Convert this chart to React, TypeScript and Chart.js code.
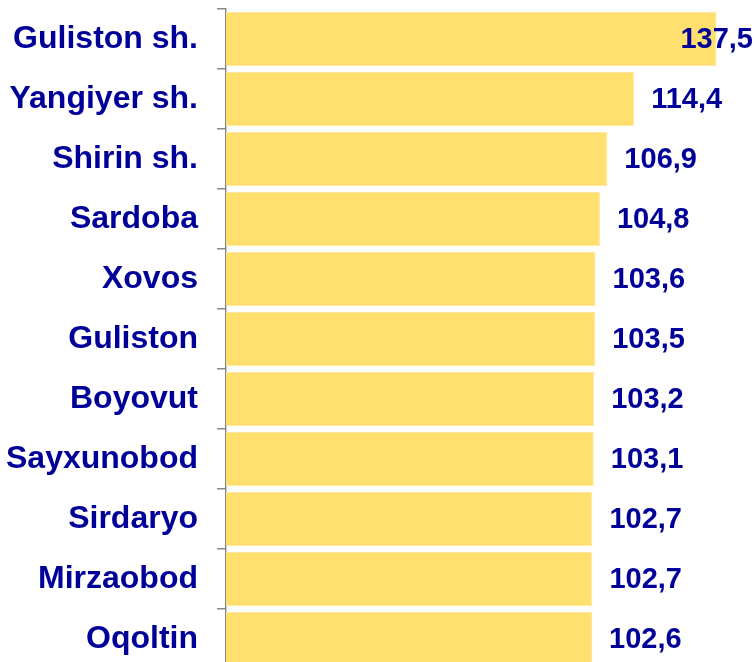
import React, { useEffect, useRef } from "react";
import { Chart, registerables } from "chart.js";

Chart.register(...registerables);

const categories = [
  "Guliston sh.",
  "Yangiyer sh.",
  "Shirin sh.",
  "Sardoba",
  "Xovos",
  "Guliston",
  "Boyovut",
  "Sayxunobod",
  "Sirdaryo",
  "Mirzaobod",
  "Oqoltin",
];
const values = [137.5, 114.4, 106.9, 104.8, 103.6, 103.5, 103.2, 103.1, 102.7, 102.7, 102.6];
const valueLabels = ["137,5", "114,4", "106,9", "104,8", "103,6", "103,5", "103,2", "103,1", "102,7", "102,7", "102,6"];

const FONT = "'Liberation Sans', Arial, Helvetica, sans-serif";
const TEXT_COLOR = "#000099";

const valueLabelPlugin = {
  id: "valueLabels",
  afterDatasetsDraw(chart: any) {
    const { ctx, chartArea } = chart;
    const meta = chart.getDatasetMeta(0);
    ctx.save();
    ctx.font = `bold 29px ${FONT}`;
    ctx.fillStyle = TEXT_COLOR;
    ctx.textBaseline = "middle";
    ctx.textAlign = "left";
    meta.data.forEach((bar: any, i: number) => {
      const text = valueLabels[i];
      const w = ctx.measureText(text).width;
      const x = Math.min(bar.x + 17, chartArea.right - 1 - w);
      ctx.fillText(text, x, bar.y + 1);
    });
    ctx.restore();
  },
};

export default function App() {
  const canvasRef = useRef<HTMLCanvasElement | null>(null);

  useEffect(() => {
    if (!canvasRef.current) return;
    const chart = new Chart(canvasRef.current, {
      type: "bar",
      data: {
        labels: categories,
        datasets: [
          {
            data: values,
            backgroundColor: "#FFDF6E",
            borderColor: "#FFE8A0",
            borderWidth: 1,
            barPercentage: 0.9,
            categoryPercentage: 1,
          },
        ],
      },
      options: {
        indexAxis: "y",
        animation: false,
        responsive: true,
        maintainAspectRatio: false,
        layout: { padding: { top: 9, bottom: 1, left: 0, right: 0 } },
        plugins: {
          legend: { display: false },
          tooltip: { enabled: false },
        },
        scales: {
          x: {
            display: false,
            min: 0,
            max: 148,
          },
          y: {
            afterFit: (scale: any) => {
              scale.width = 226;
              scale.paddingTop = 0;
              scale.paddingBottom = 0;
            },
            grid: {
              offset: true,
              drawOnChartArea: false,
              drawTicks: true,
              tickLength: 9,
              color: "#888888",
              lineWidth: 1.5,
            },
            border: { display: true, color: "#888888", width: 1.5 },
            ticks: {
              padding: 19,
              color: TEXT_COLOR,
              font: { family: FONT, size: 32, weight: "bold" },
              autoSkip: false,
            },
          },
        },
      },
      plugins: [valueLabelPlugin],
    });
    return () => chart.destroy();
  }, []);

  return (
    <div
      style={{
        position: "fixed",
        left: 0,
        top: 0,
        width: 754,
        height: 662,
        overflow: "hidden",
        background: "#FFFFFF",
      }}
    >
      <div style={{ position: "relative", width: 754, height: 670 }}>
        <canvas ref={canvasRef} />
      </div>
    </div>
  );
}
